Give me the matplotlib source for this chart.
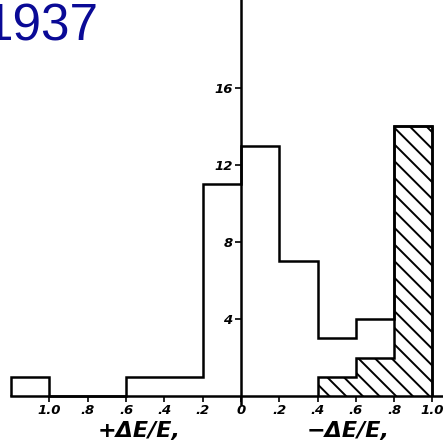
import matplotlib
matplotlib.use("Agg")
import matplotlib.pyplot as plt
import numpy as np

# Bin edges (signed: negative = +ΔE/E side, positive = −ΔE/E side)
bin_edges = [-1.2, -1.0, -0.8, -0.6, -0.4, -0.2, 0.0, 0.2, 0.4, 0.6, 0.8, 1.0]
total_counts = [1, 0, 0, 1, 1, 11, 13, 7, 3, 4, 14]
hatched_edges = [0.4, 0.6, 0.8, 1.0]
hatched_counts = [1, 2, 14]

x_ticks = [-1.0, -0.8, -0.6, -0.4, -0.2, 0.0, 0.2, 0.4, 0.6, 0.8, 1.0]
x_tick_labels = ["1.0", ".8", ".6", ".4", ".2", "0", ".2", ".4", ".6", ".8", "1.0"]
y_ticks = [4, 8, 12, 16]
y_tick_labels = ["4", "8", "12", "16"]

plt.rcParams["hatch.linewidth"] = 1.4

fig = plt.figure(figsize=(4.43, 4.43), dpi=100)
ax = fig.add_axes([0, 0, 1, 1])
ax.set_facecolor("white")

# hatched bars
ax.stairs(hatched_counts, hatched_edges, baseline=0, fill=True,
          facecolor="white", edgecolor="black", hatch="\\\\", linewidth=0)
ax.stairs(hatched_counts, hatched_edges, baseline=0, color="black", linewidth=1.8)
# open histogram outline
ax.stairs(total_counts, bin_edges, baseline=0, color="black", linewidth=1.8)

ax.set_xlim(-1.258, 1.055)
ax.set_ylim(-2.44, 20.57)

for s in ["top", "right"]:
    ax.spines[s].set_visible(False)
ax.spines["left"].set_position(("data", 0))
ax.spines["bottom"].set_position(("data", 0))
ax.spines["left"].set_bounds(-0.4, 20.6)
ax.spines["bottom"].set_bounds(-1.2, 1.06)
ax.spines["left"].set_linewidth(1.8)
ax.spines["bottom"].set_linewidth(1.8)

tick_font = dict(family="DejaVu Sans", style="italic", weight="bold", size=9.5)
ax.set_xticks(x_ticks)
ax.set_xticklabels(x_tick_labels, fontdict=tick_font)
ax.set_yticks(y_ticks)
ax.set_yticklabels(y_tick_labels, fontdict=tick_font)
ax.tick_params(axis="x", direction="out", length=4, width=1.2, pad=2)
ax.tick_params(axis="y", direction="out", length=4, width=1.2, pad=2)

label_font = dict(family="DejaVu Sans", style="italic", weight="bold", size=16)
ax.text(-0.53, -1.8, "+ΔE/E,", ha="center", va="center", **label_font)
ax.text(0.56, -1.8, "−ΔE/E,", ha="center", va="center", **label_font)

fig.text(-0.035, 0.995, "1937", ha="left", va="top", color="#0a0a96",
         family="Liberation Sans", size=37)

fig.savefig("out.png", dpi=100, facecolor="white")
